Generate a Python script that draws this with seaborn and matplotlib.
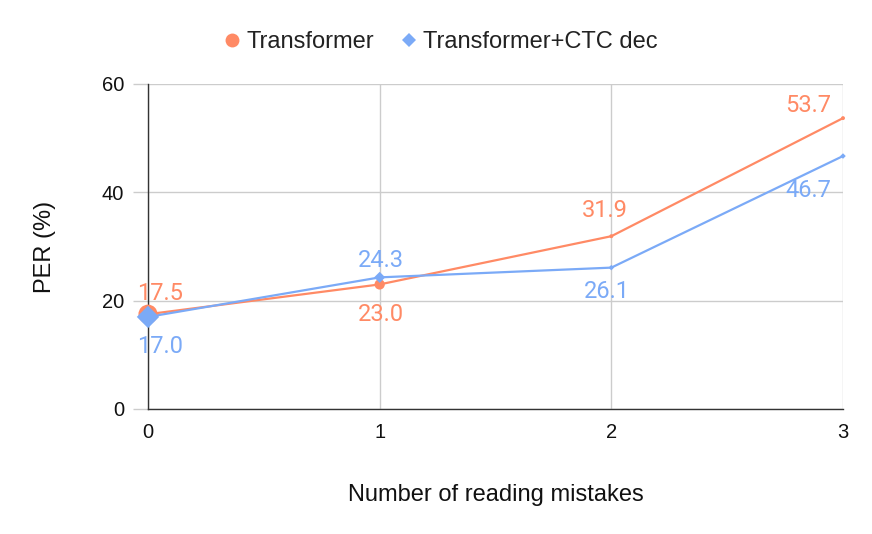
import matplotlib
matplotlib.use("Agg")
import matplotlib.pyplot as plt
import seaborn as sns
import pandas as pd
from matplotlib.lines import Line2D

# ---- data ----
mistakes = [0, 1, 2, 3]
transformer = [17.5, 23.0, 31.9, 53.7]
transformer_ctc = [17.0, 24.3, 26.1, 46.7]
series_names = ["Transformer", "Transformer+CTC dec"]
y_ticks = [0, 20, 40, 60]

# ---- style ----
ORANGE = "#FF8A65"
BLUE = "#7BAAF7"
GRID = "#CCCCCC"
AXIS = "#333333"

sns.set_theme(style="white")
plt.rcParams["font.family"] = ["Liberation Sans", "DejaVu Sans"]

fig = plt.figure(figsize=(8.72, 5.34), dpi=100)
ax = fig.add_axes([148 / 872, 1 - 409 / 534, (843 - 148) / 872, (409 - 84) / 534])

df = pd.DataFrame({
    "x": mistakes * 2,
    "y": transformer + transformer_ctc,
    "series": [series_names[0]] * 4 + [series_names[1]] * 4,
})

for name, color, marker, sizes in [
    (series_names[0], ORANGE, "o", [190, 55, 8, 8]),
    (series_names[1], BLUE, "D", [130, 32, 8, 8]),
]:
    sub = df[df["series"] == name]
    sns.lineplot(data=sub, x="x", y="y", color=color, lw=1.6, ax=ax,
                 legend=False, zorder=3)
    ax.scatter(sub["x"], sub["y"], s=sizes, color=color, marker=marker,
               zorder=4, clip_on=False, linewidths=0)

# data labels
offsets_t = [(12, 21), (1, -30), (-7, 26), (-35, 13)]
offsets_c = [(12, -30), (1, 17), (-4, -24), (-35, -34)]
for vals, offs, color in [(transformer, offsets_t, ORANGE), (transformer_ctc, offsets_c, BLUE)]:
    for xv, yv, (dx, dy) in zip(mistakes, vals, offs):
        ax.annotate(f"{yv:.1f}", (xv, yv), xytext=(dx, dy), textcoords="offset pixels",
                    ha="center", va="center", color=color, fontsize=17,
                    family=["Roboto", "DejaVu Sans"], zorder=5,
                    annotation_clip=False)

ax.set_xlim(0, 3)
ax.set_ylim(0, 60)
ax.set_xticks(mistakes)
ax.set_yticks(y_ticks)
ax.set_xticklabels([str(m) for m in mistakes])
ax.set_yticklabels([str(t) for t in y_ticks])

ax.grid(True, color=GRID, lw=1)
for s in ["top", "right"]:
    ax.spines[s].set_visible(False)
for s in ["left", "bottom"]:
    ax.spines[s].set_color(AXIS)
    ax.spines[s].set_linewidth(1)
    ax.spines[s].set_zorder(2.5)

ax.tick_params(axis="y", length=10.8, width=1, color=GRID, pad=6.5,
               labelsize=14.5, labelcolor="#111111", left=True)
ax.yaxis.get_major_ticks()[0].tick1line.set_color(AXIS)
ax.tick_params(axis="x", length=0, pad=10, labelsize=14.5, labelcolor="#111111")

ax.set_xlabel("Number of reading mistakes", fontsize=17, color="#111111", labelpad=0)
ax.xaxis.set_label_coords(0.5, (409 - 484) / 325)
ax.set_ylabel("PER (%)", fontsize=17, color="#111111")
ax.yaxis.set_label_coords((56 - 148) / 695, 0.5)

handles = [
    Line2D([], [], ls="none", marker="o", color=ORANGE, markersize=10, markeredgewidth=0),
    Line2D([], [], ls="none", marker="D", color=BLUE, markersize=7, markeredgewidth=0),
]
fig.legend(handles, series_names, loc="center", bbox_to_anchor=(439 / 872, 1 - 42 / 534),
           ncol=2, frameon=False, fontsize=17, handletextpad=0.1, columnspacing=1.0,
           handlelength=1.0, labelcolor="#222222")

fig.savefig("out.png", dpi=100)
